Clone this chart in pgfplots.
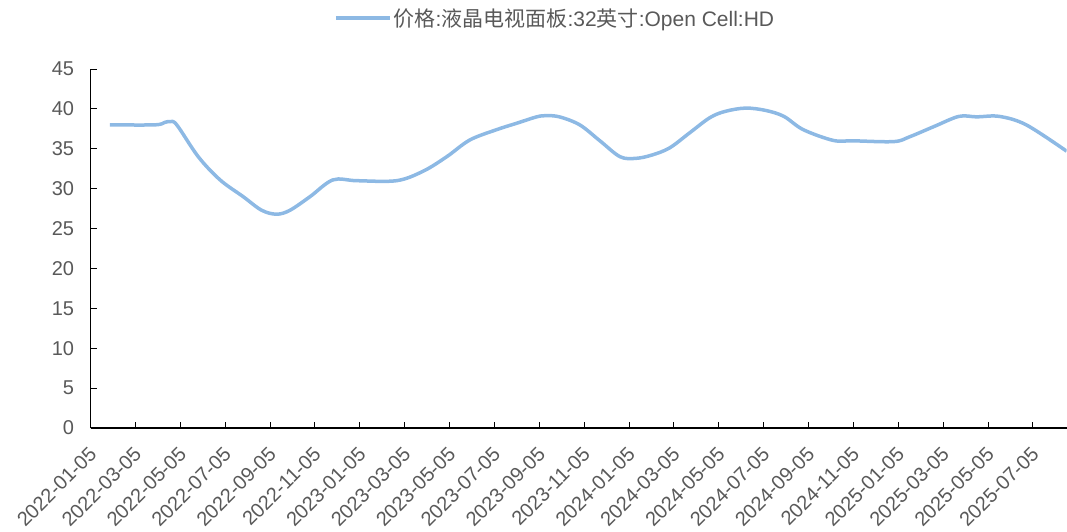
\documentclass[border=0pt]{standalone}
\usepackage{fontspec}
\setmainfont{Liberation Sans}
\newfontfamily\cjk{Noto Sans CJK SC}
\usepackage{pgfplots}
\pgfplotsset{compat=1.18}
\definecolor{linec}{RGB}{141,185,228}
\definecolor{txt}{RGB}{89,89,89}
\begin{document}
\begin{tikzpicture}[x=1pt,y=1pt]
\useasboundingbox (0,0) rectangle (1067,531);
\begin{axis}[
  at={(90.6pt,103pt)}, anchor=south west,
  width=976pt, height=359pt, scale only axis,
  xmin=0, xmax=43.5, ymin=0, ymax=45,
  axis x line*=bottom, axis y line*=left,
  axis line style={-, black, line width=1.3pt},
  tick align=inside, major tick length=6pt,
  tick style={black, line width=1pt},
  xtick={0,2,...,42},
  xticklabels={2022-01-05,2022-03-05,2022-05-05,2022-07-05,2022-09-05,2022-11-05,2023-01-05,2023-03-05,2023-05-05,2023-07-05,2023-09-05,2023-11-05,2024-01-05,2024-03-05,2024-05-05,2024-07-05,2024-09-05,2024-11-05,2025-01-05,2025-03-05,2025-05-05,2025-07-05},
  ytick={0,5,...,45},
  /pgf/number format/assume math mode=true,
  ticklabel style={font=\fontsize{20}{23}\selectfont, text=txt},
  xticklabel style={rotate=45, anchor=north east, xshift=-11pt, yshift=-7pt},
  yticklabel style={xshift=-13pt},
  legend style={at={(0.476,1.142)}, anchor=center, draw=none, fill=none,
    font=\fontsize{21}{24}\selectfont, text=txt},
  legend image code/.code={\draw[#1] (0pt,0pt) -- (54pt,0pt);},
]
\addplot[linec, line width=3.5pt, smooth, tension=0.55] coordinates {
(0.86,38.0) (2.87,38.0) (3.3,38.3) (3.54,38.4) (3.84,38.0) (4.8,34.0)
(5.77,31.1) (6.8,29.0) (7.62,27.3) (8.29,26.8) (8.89,27.3) (9.78,29.0)
(10.8,31.1) (11.86,31.0) (13.64,31.0) (14.83,32.2) (15.87,34.0) (16.9,36.1)
(18.1,37.4) (18.99,38.2) (19.88,39.0) (20.3,39.15) (20.9,39.0) (21.8,38.0)
(22.7,36.0) (23.6,34.0) (24.3,33.8) (25.0,34.2) (25.8,35.1) (26.7,37.0)
(27.6,38.9) (28.3,39.7) (29.2,40.1) (30.1,39.8) (30.9,39.06) (31.76,37.4)
(33.1,36.05) (34.0,36.0) (35.8,35.9) (36.5,36.5) (37.6,37.8) (38.7,39.06)
(39.5,39.0) (40.5,39.06) (41.7,38.0) (43.5,34.7)
};
\addlegendentry{{\cjk 价格}:{\cjk 液晶电视面板}:32{\cjk 英寸}:Open Cell:HD}
\end{axis}
\end{tikzpicture}
\end{document}
